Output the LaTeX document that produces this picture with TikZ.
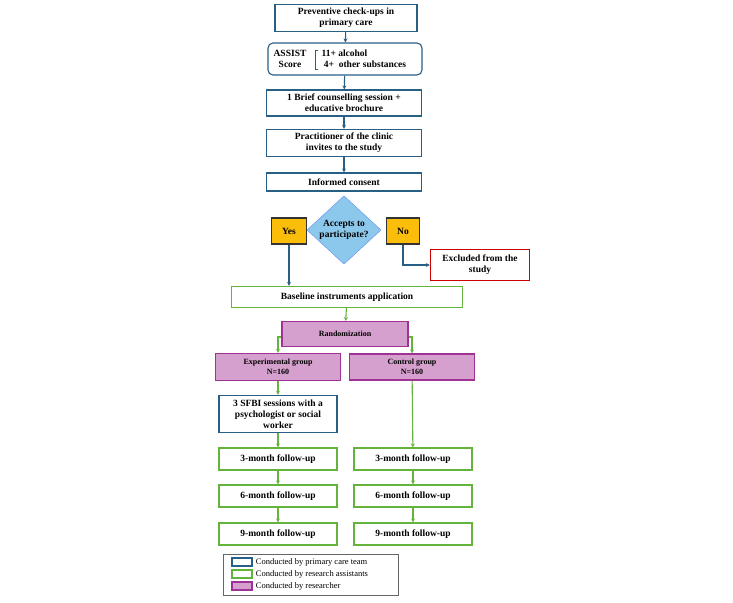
\documentclass[tikz,border=0pt]{standalone}
\usepackage{fontspec}
\setmainfont{Liberation Serif}
\usetikzlibrary{shapes.geometric,arrows.meta}
\definecolor{teamblue}{RGB}{40,95,135}
\definecolor{asgreen}{RGB}{100,180,60}
\definecolor{resmag}{RGB}{160,50,150}
\definecolor{resfill}{RGB}{214,160,206}
\definecolor{decfill}{RGB}{140,200,235}
\definecolor{yesfill}{RGB}{250,190,10}
\tikzset{
  team/.style={draw=teamblue, line width=1.1pt, fill=white, font=\bfseries\fontsize{9.5}{11}\selectfont, align=center, inner sep=1pt},
  assist/.style={draw=asgreen, line width=1.1pt, fill=white, font=\bfseries\fontsize{9.5}{11}\selectfont, align=center, inner sep=1pt},
  res/.style={draw=resmag, line width=1.1pt, fill=resfill, font=\bfseries\fontsize{8}{9.5}\selectfont, align=center, inner sep=1pt},
  tip/.style={-{Stealth[length=4pt,width=4pt]}},
  bl/.style={tip, draw=teamblue, line width=1.1pt},
  gr/.style={tip, draw=asgreen, line width=1.1pt},
}
\begin{document}
\begin{tikzpicture}[x=1pt, y=-1pt]
  \useasboundingbox (0,0) rectangle (733,602);
  % Nodes
  \node[team, minimum width=142, minimum height=27] (prev) at (346,18) {Preventive check-ups in\\primary care};
  \node[team, rounded corners=5pt, minimum width=154, minimum height=32] (score) at (345,59) {};
  \node[font=\bfseries\fontsize{9.5}{11}\selectfont, align=center] (sl) at (290,59) {ASSIST\\Score};
  \node[font=\bfseries\fontsize{9.5}{11}\selectfont, align=left, anchor=west] (sr) at (318,59) {11+ alcohol\\\ 4+\ \ other substances};
  \draw[teamblue] (318,50) -- (315,50) -- (315,69) -- (318,69);
  \node[team, minimum width=155, minimum height=26] (brief) at (344,103) {1 Brief counselling session +\\educative brochure};
  \node[team, minimum width=155, minimum height=27] (prac) at (344,143) {Practitioner of the clinic\\invites to the study};
  \node[team, minimum width=155, minimum height=18] (cons) at (344,182) {Informed consent};
  \node[diamond, draw=decfill!70!blue, fill=decfill, minimum width=74, minimum height=68, inner sep=0pt,
        font=\bfseries\fontsize{9.5}{11}\selectfont, align=center] (acc) at (344,230) {Accepts to\\participate?};
  \node[draw=black!80, line width=1.1pt, fill=yesfill, minimum width=35, minimum height=26, font=\bfseries\fontsize{9.5}{11}\selectfont] (yes) at (289,231) {Yes};
  \node[draw=black!80, line width=1.1pt, fill=yesfill, minimum width=33, minimum height=26, font=\bfseries\fontsize{9.5}{11}\selectfont] (no) at (403,231) {No};
  \node[draw=red!80!black, line width=1.1pt, fill=white, minimum width=99, minimum height=31, font=\bfseries\fontsize{9.5}{11}\selectfont, align=center] (excl) at (480,265) {Excluded from the\\study};
  \node[assist, minimum width=231, minimum height=21] (base) at (347,297) {Baseline instruments application};
  \node[res, minimum width=126, minimum height=25] (rand) at (345,334) {Randomization};
  \node[res, minimum width=125, minimum height=27] (exp) at (278,367) {Experimental group\\N=160};
  \node[res, minimum width=125, minimum height=26] (ctrl) at (412,367) {Control group\\N=160};
  \node[team, minimum width=118, minimum height=37] (sfbi) at (278,414) {3 SFBI sessions with a\\psychologist or social\\worker};
  \foreach \m/\y in {3/459,6/496,9/534} {
    \node[assist, minimum width=118, minimum height=22] (l\m) at (278,\y) {\m-month follow-up};
    \node[assist, minimum width=118, minimum height=22] (r\m) at (413,\y) {\m-month follow-up};
  }

  % Edges
  \draw[bl] (prev) -- (score);
  \draw[bl] (score) -- (brief);
  \draw[bl] (brief) -- (prac);
  \draw[bl] (prac) -- (cons);
  \draw[bl] (yes) -- (yes |- base.north);
  \draw[bl] (no.south) |- (excl.west);
  \draw[gr] (base) -- (rand);
  \draw[gr] (rand.west |- 0,337) -| (exp.north);
  \draw[gr] (rand.east |- 0,337) -| (ctrl.north);
  \draw[gr] (exp) -- (sfbi);
  \draw[gr] (sfbi) -- (l3);
  \draw[gr] (ctrl) -- (r3);
  \draw[gr] (l3) -- (l6);
  \draw[gr] (l6) -- (l9);
  \draw[gr] (r3) -- (r6);
  \draw[gr] (r6) -- (r9);

  % Legend
  \node[draw=black!60, minimum width=175, minimum height=41] (leg) at (310.5,574.5) {};
  \node[draw=teamblue, line width=1.1pt, minimum width=20, minimum height=8, inner sep=0pt] (k1) at (242,562) {};
  \node[draw=asgreen, line width=1.1pt, minimum width=20, minimum height=8, inner sep=0pt] (k2) at (242,574) {};
  \node[draw=resmag, line width=1.1pt, fill=resfill, minimum width=20, minimum height=8, inner sep=0pt] (k3) at (242,586) {};
  \node[anchor=west, font=\fontsize{8.5}{9}\selectfont, inner sep=1pt] at (k1.east) {\ Conducted by primary care team};
  \node[anchor=west, font=\fontsize{8.5}{9}\selectfont, inner sep=1pt] at (k2.east) {\ Conducted by research assistants};
  \node[anchor=west, font=\fontsize{8.5}{9}\selectfont, inner sep=1pt] at (k3.east) {\ Conducted by researcher};
\end{tikzpicture}
\end{document}
